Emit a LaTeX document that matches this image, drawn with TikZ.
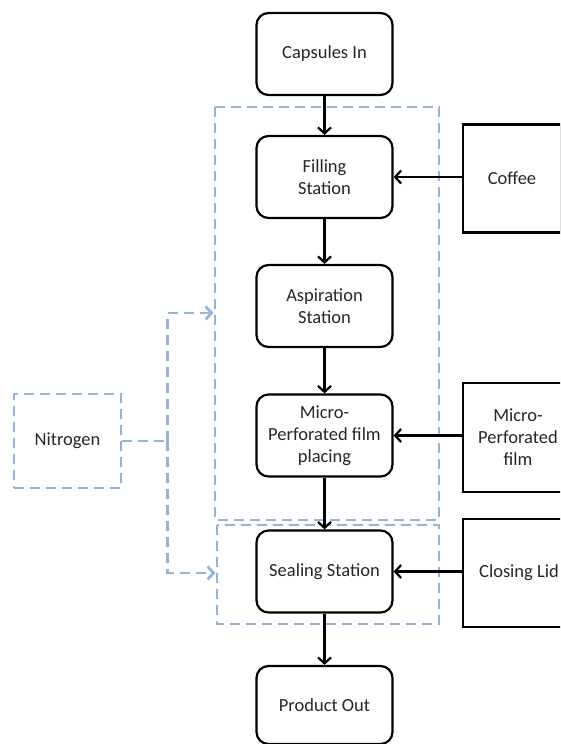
\documentclass[tikz,border=0pt]{standalone}
\usepackage{fontspec}
\setmainfont{Carlito}
\usetikzlibrary{arrows.meta}
\definecolor{zoneblue}{HTML}{95B3D7}
\begin{document}
\begin{tikzpicture}[x=1pt,y=-1pt,
  station/.style={draw, line width=2.2pt, rounded corners=12pt, minimum width=136pt, minimum height=82pt, align=center, inner sep=2pt, font=\fontsize{18.5}{22}\selectfont, text=black!85},
  source/.style={draw, line width=2.2pt, minimum height=108pt, align=center, inner sep=2pt, font=\fontsize{18.5}{22}\selectfont, text=black!85},
  zone/.style={draw=zoneblue, line width=2.8pt, dash pattern=on 10pt off 6pt},
  flow/.style={-{Straight Barb[length=6pt,width=13pt]}, line width=2.2pt},
  nflow/.style={zone, -{Straight Barb[length=6pt,width=13pt]}}]
\useasboundingbox (0,0) rectangle (560,744);
\clip (0,0) rectangle (560,744);
% zones
\draw[zone] (215,107) rectangle (439,520);
\draw[zone] (217,525) rectangle (439,624);
% stations
\node[station] (cap) at (324.5,54) {Capsules In};
\node[station] (fill) at (324.5,177) {Filling\\Station};
\node[station] (asp) at (324.5,306) {Aspiration\\Station};
\node[station] (micro) at (324.5,435.5) {Micro-\\Perforated film\\placing};
\node[station] (seal) at (324.5,571.5) {Sealing Station};
\node[station, minimum height=78pt] (out) at (324.5,705) {Product Out};
% sources
\node[source, minimum width=98pt] (coffee) at (512,178.5) {Coffee};
\node[source, minimum width=110pt, minimum height=109pt] (film) at (518,437.5) {Micro-\\Perforated\\film};
\node[source, minimum width=112pt] (lid) at (519,573) {Closing Lid};
% nitrogen
\node[zone, minimum width=107pt, minimum height=94pt, font=\fontsize{18.5}{22}\selectfont, text=black!85] (n2) at (67.5,441) {Nitrogen};
\coordinate (j) at (167.5,441);
\coordinate (jt) at (167.5,313);
\coordinate (jb) at (167.5,573);
\coordinate (ut) at (213.5,313);
\coordinate (lb) at (215.5,573);
% flows
\draw[flow] (cap) -- (fill);
\draw[flow] (fill) -- (asp);
\draw[flow] (asp) -- (micro);
\draw[flow] (micro) -- (seal);
\draw[flow] (seal) -- (out);
\draw[flow] (coffee.west |- fill.east) -- (fill.east);
\draw[flow] (film.west |- micro.east) -- (micro.east);
\draw[flow] (lid.west |- seal.east) -- (seal.east);
\draw[zone] (n2.east) -- (j);
\draw[nflow] (j) -- (jt) -- (ut);
\draw[nflow] (j) -- (jb) -- (lb);
\end{tikzpicture}
\end{document}
